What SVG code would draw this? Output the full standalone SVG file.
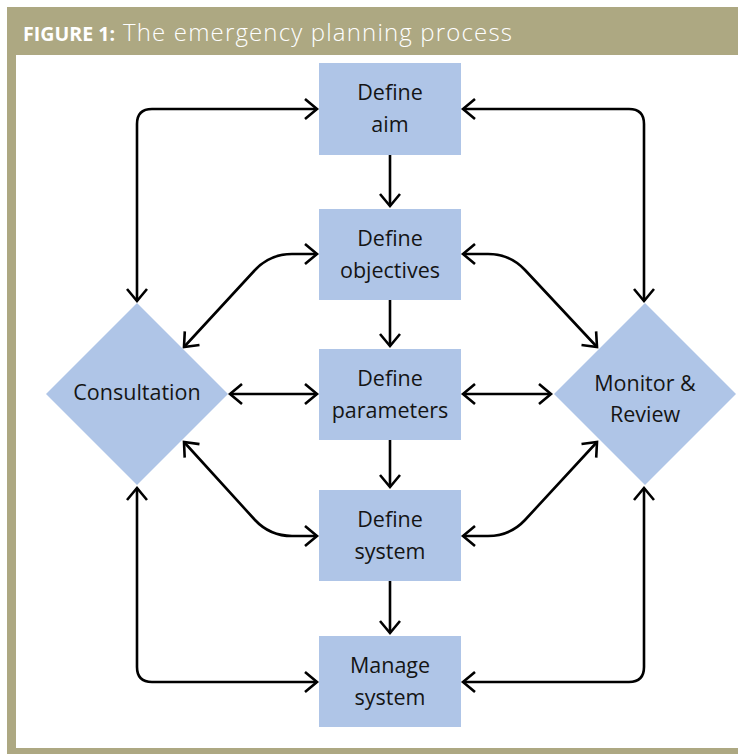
<svg xmlns="http://www.w3.org/2000/svg" width="738" height="754" viewBox="0 0 738 754">
  <defs>
    <style>
      .frame { fill: #ADA882; }
      .node { fill: #AFC5E7; }
      .lbl { font-family: "Open Sans", "Noto Sans", "Liberation Sans", sans-serif; font-size: 21.5px; fill: #151515; text-anchor: middle; }
      .conn { fill: none; stroke: #000; stroke-width: 2.6; stroke-linejoin: round; }
      .title-b { font-family: "Open Sans", "Liberation Sans", sans-serif; font-weight: 700; font-size: 19.5px; fill: #ffffff; }
      .title-l { font-family: "Open Sans", "Liberation Sans", sans-serif; font-weight: 300; font-size: 24px; fill: #ffffff; }
    </style>
    <marker id="arr" viewBox="-16 -13 20 26" refX="0" refY="0" markerWidth="20" markerHeight="26" markerUnits="userSpaceOnUse" orient="auto-start-reverse">
      <path d="M -12 -10 L 0 0 L -12 10" fill="none" stroke="#000" stroke-width="2.6" stroke-linejoin="miter"/>
    </marker>
  </defs>

  <rect width="738" height="754" fill="#ffffff"/>

  <g id="frame">
    <rect class="frame" x="7" y="7" width="731" height="48"/>
    <rect class="frame" x="7" y="55" width="9" height="699"/>
    <rect class="frame" x="7" y="748" width="731" height="6"/>
    <text x="23" y="41"><tspan class="title-b" textLength="92" lengthAdjust="spacingAndGlyphs">FIGURE 1:</tspan><tspan class="title-l" x="123" textLength="389" lengthAdjust="spacing">The emergency planning process</tspan></text>
  </g>

  <g id="connectors">
    <path class="conn" d="M 390 155 V 206" marker-end="url(#arr)"/>
    <path class="conn" d="M 390 300 V 346" marker-end="url(#arr)"/>
    <path class="conn" d="M 390 440 V 487" marker-end="url(#arr)"/>
    <path class="conn" d="M 390 581 V 633" marker-end="url(#arr)"/>
    <path class="conn" d="M 317 109 H 152 Q 137 109 137 124 V 301" marker-start="url(#arr)" marker-end="url(#arr)"/>
    <path class="conn" d="M 137 488 V 667 Q 137 682 152 682 H 317" marker-start="url(#arr)" marker-end="url(#arr)"/>
    <path class="conn" d="M 463 109 H 629 Q 644 109 644 124 V 301" marker-start="url(#arr)" marker-end="url(#arr)"/>
    <path class="conn" d="M 463 682 H 629 Q 644 682 644 667 V 488" marker-start="url(#arr)" marker-end="url(#arr)"/>
    <path class="conn" d="M 317 254 H 292 Q 270 254 255 270 L 184 347" marker-start="url(#arr)" marker-end="url(#arr)"/>
    <path class="conn" d="M 184 442 L 255 520 Q 270 536 292 536 H 317" marker-start="url(#arr)" marker-end="url(#arr)"/>
    <path class="conn" d="M 463 254 H 488 Q 510 254 525 270 L 597 347" marker-start="url(#arr)" marker-end="url(#arr)"/>
    <path class="conn" d="M 463 536 H 488 Q 510 536 525 520 L 597 442" marker-start="url(#arr)" marker-end="url(#arr)"/>
    <path class="conn" d="M 230 394 H 317" marker-start="url(#arr)" marker-end="url(#arr)"/>
    <path class="conn" d="M 463 394 H 551" marker-start="url(#arr)" marker-end="url(#arr)"/>
  </g>

  <g id="define-aim">
    <rect class="node" x="319" y="63" width="142" height="92"/>
    <text class="lbl" x="390" y="100">Define</text>
    <text class="lbl" x="390" y="132">aim</text>
  </g>
  <g id="define-objectives">
    <rect class="node" x="319" y="209" width="142" height="91"/>
    <text class="lbl" x="390" y="246">Define</text>
    <text class="lbl" x="390" y="278">objectives</text>
  </g>
  <g id="define-parameters">
    <rect class="node" x="319" y="349" width="142" height="91"/>
    <text class="lbl" x="390" y="386">Define</text>
    <text class="lbl" x="390" y="418">parameters</text>
  </g>
  <g id="define-system">
    <rect class="node" x="319" y="490" width="142" height="91"/>
    <text class="lbl" x="390" y="527">Define</text>
    <text class="lbl" x="390" y="559">system</text>
  </g>
  <g id="manage-system">
    <rect class="node" x="319" y="636" width="142" height="91"/>
    <text class="lbl" x="390" y="673">Manage</text>
    <text class="lbl" x="390" y="705">system</text>
  </g>
  <g id="consultation">
    <polygon class="node" points="137,303 228,394 137,485 46,394"/>
    <text class="lbl" x="137" y="400">Consultation</text>
  </g>
  <g id="monitor-review">
    <polygon class="node" points="645,303 736,394 645,485 554,394"/>
    <text class="lbl" x="645" y="391">Monitor &amp;</text>
    <text class="lbl" x="645" y="422">Review</text>
  </g>
</svg>
